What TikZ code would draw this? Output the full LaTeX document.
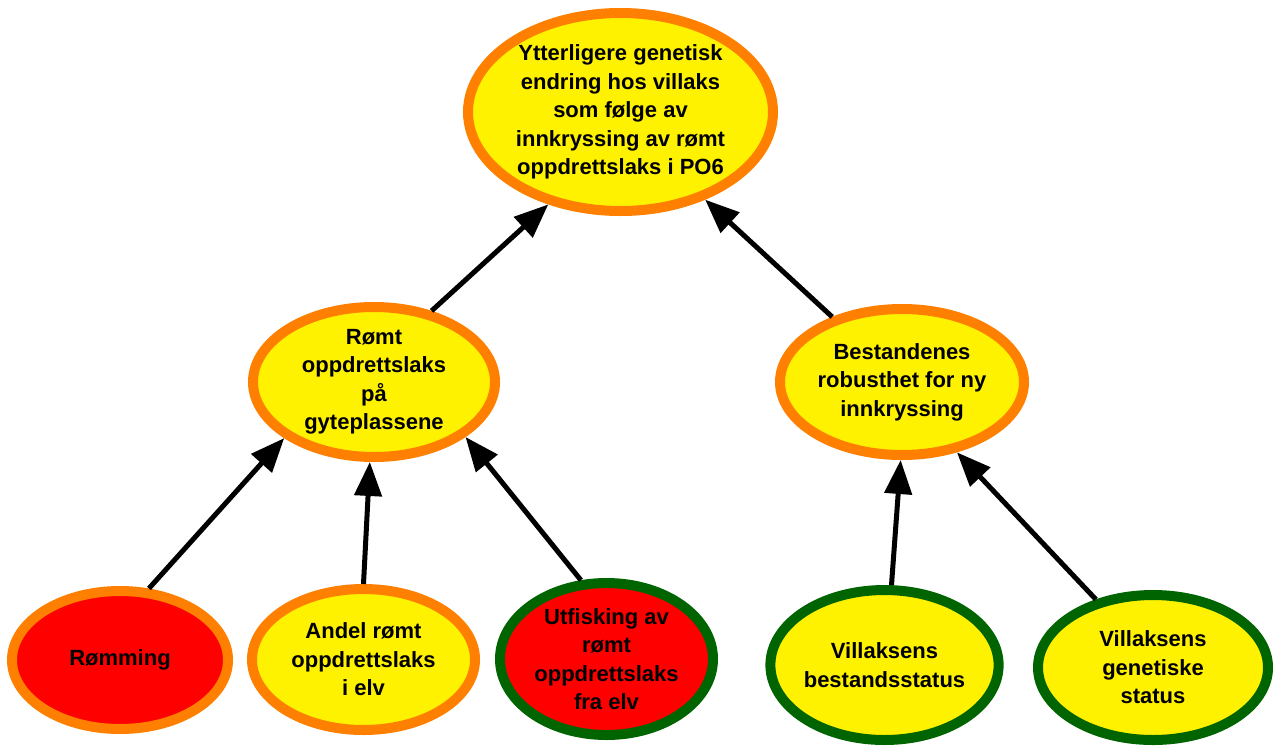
\documentclass[tikz,border=0pt]{standalone}
\usepackage{fontspec}
\setmainfont{Liberation Sans}
\usepackage{tikz}
\usetikzlibrary{arrows.meta}
\usetikzlibrary{shapes.geometric}
\definecolor{ringorange}{RGB}{255,128,0}
\definecolor{ringgreen}{RGB}{0,100,0}
\definecolor{fillyellow}{RGB}{255,242,0}
\definecolor{fillred}{RGB}{255,0,0}

\begin{document}
\begin{tikzpicture}[x=1pt, y=-1pt]
	\tikzstyle{factor}=[ellipse, line width=10pt, inner sep=0pt, align=center,
	                        font=\fontsize{22}{28.5}\selectfont\bfseries];
	\tikzstyle{amber}=[factor, draw=ringorange, fill=fillyellow];
	\tikzstyle{alarm}=[factor, draw=ringorange, fill=fillred];
	\tikzstyle{okred}=[factor, draw=ringgreen, fill=fillred];
	\tikzstyle{okyellow}=[factor, draw=ringgreen, fill=fillyellow];
	\tikzstyle{link}=[line width=5pt, -{Triangle[length=34pt, width=27pt]}];
	\useasboundingbox (0,0) rectangle (1273,747);
	% top level
	\node[amber, minimum width=305pt, minimum height=198pt] (endring) at (620.5,112)
	  {Ytterligere genetisk\\endring hos villaks\\som følge av\\innkryssing av rømt\\oppdrettslaks i PO6};
	% middle level
	\node[amber, minimum width=242pt, minimum height=150pt] (gyte) at (374,382)
	  {Rømt\\oppdrettslaks\\på\\gyteplassene};
	\node[amber, minimum width=244pt, minimum height=146pt] (robust) at (902,382)
	  {Bestandenes\\robusthet for ny\\innkryssing};
	% bottom level
	\node[alarm, minimum width=216pt, minimum height=138pt] (romming) at (120,660)
	  {Rømming};
	\node[amber, minimum width=223pt, minimum height=141pt] (andel) at (363.5,659.5)
	  {Andel rømt\\oppdrettslaks\\i elv};
	\node[okred, minimum width=213pt, minimum height=152pt] (utfisk) at (606.5,659)
	  {Utfisking av\\rømt\\oppdrettslaks\\fra elv};
	\node[okyellow, minimum width=223pt, minimum height=150pt] (bestand) at (884.5,665)
	  {Villaksens\\bestandsstatus};
	\node[okyellow, minimum width=230pt, minimum height=145pt] (genstat) at (1153,667.5)
	  {Villaksens\\genetiske\\status};
	% arrows
	\foreach \from/\to in {romming.68/gyte.212, andel.90/gyte.267, utfisk.108/gyte.329,
	                       gyte.51/endring.232, robust.137/endring.314,
	                       bestand.85/robust.269, genstat.130/robust.308}
	{\draw[link] (\from) -- (\to);}
\end{tikzpicture}
\end{document}
